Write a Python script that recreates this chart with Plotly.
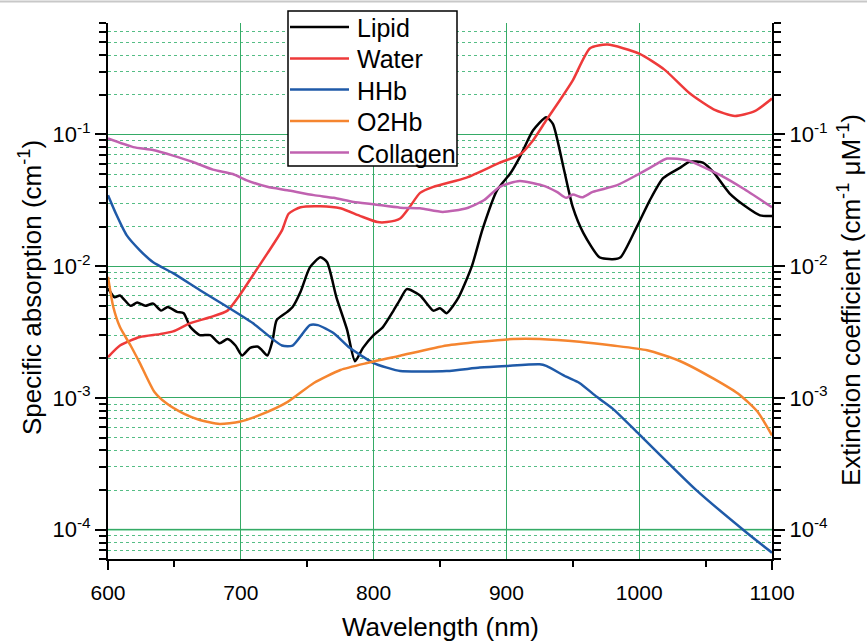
import numpy as np
import plotly.graph_objects as go

# ---------------- data ----------------
lipid_wl = [600, 605, 609, 617, 622, 628, 634, 640, 645, 652, 657, 662, 669, 677, 684, 690, 696, 701, 707, 713,
            716, 720, 724, 727, 735, 739, 745, 752, 760, 765, 772, 780, 786, 792, 800, 807, 815, 820, 825, 835,
            845, 850, 855, 864, 874, 882, 893, 903, 910, 920, 930, 935, 943, 950, 958, 970, 980, 986, 998, 1008,
            1018, 1031, 1038, 1048, 1056, 1068, 1081, 1091, 1100]
lipid = [6.8e-3, 5.8e-3, 6.0e-3, 5.0e-3, 5.3e-3, 5.0e-3, 5.2e-3, 4.6e-3, 4.9e-3, 4.5e-3,
         4.4e-3, 3.45e-3, 3.0e-3, 3.0e-3, 2.6e-3, 2.8e-3, 2.5e-3, 2.1e-3, 2.4e-3, 2.45e-3,
         2.3e-3, 2.1e-3, 2.75e-3, 3.9e-3, 4.5e-3, 4.9e-3, 6.4e-3, 9.8e-3, 1.17e-2, 1.07e-2,
         5.8e-3, 3.3e-3, 1.9e-3, 2.4e-3, 3.0e-3, 3.45e-3, 4.6e-3, 5.6e-3, 6.7e-3, 6.0e-3,
         4.6e-3, 4.8e-3, 4.4e-3, 5.8e-3, 1.0e-2, 1.9e-2, 3.77e-2, 5.07e-2, 6.7e-2, 0.107,
         0.135, 0.12, 5.6e-2, 2.8e-2, 1.78e-2, 1.17e-2, 1.13e-2, 1.17e-2, 1.97e-2, 3.16e-2,
         4.65e-2, 5.6e-2, 6.2e-2, 6.1e-2, 5.15e-2, 3.57e-2, 2.8e-2, 2.43e-2, 2.4e-2]

water_wl = [600, 609, 624, 639, 649, 662, 677, 690, 699, 709, 720, 731, 736, 745, 760, 775, 790, 803, 810, 820,
            827, 835, 845, 870, 895, 910, 920, 930, 940, 950, 963, 976, 1000, 1019, 1038, 1056, 1072, 1087, 1100]
water = [2.04e-3, 2.5e-3, 2.9e-3, 3.05e-3, 3.2e-3, 3.7e-3, 4.1e-3, 4.6e-3, 6.0e-3, 8.5e-3,
         1.25e-2, 1.87e-2, 2.5e-2, 2.8e-2, 2.85e-2, 2.75e-2, 2.4e-2, 2.16e-2, 2.16e-2, 2.3e-2,
         2.8e-2, 3.6e-2, 4.0e-2, 4.7e-2, 6.1e-2, 7.0e-2, 9.0e-2, 0.128, 0.18, 0.257,
         0.45, 0.48, 0.41, 0.31, 0.205, 0.155, 0.138, 0.15, 0.187]

hhb_wl = [600, 606, 614, 624, 634, 649, 669, 690, 709, 731, 739, 752, 758, 770, 782, 800, 810, 820, 855, 880,
          900, 925, 930, 945, 955, 968, 980, 1000, 1043, 1081, 1100]
hhb = [3.45e-2, 2.5e-2, 1.72e-2, 1.32e-2, 1.07e-2, 8.85e-3, 6.6e-3, 4.9e-3, 3.7e-3, 2.5e-3,
       2.5e-3, 3.57e-3, 3.57e-3, 3.1e-3, 2.4e-3, 1.84e-3, 1.7e-3, 1.6e-3, 1.6e-3, 1.7e-3,
       1.75e-3, 1.8e-3, 1.75e-3, 1.45e-3, 1.3e-3, 1.02e-3, 8.3e-4, 5.3e-4, 2.0e-4, 9.5e-5, 6.7e-5]

o2hb_wl = [600, 604, 609, 617, 624, 635, 644, 657, 669, 684, 699, 714, 735, 755, 775, 795, 820, 855, 880, 905,
           925, 955, 980, 1006, 1031, 1056, 1076, 1089, 1100]
o2hb = [8.3e-3, 4.9e-3, 3.45e-3, 2.5e-3, 1.84e-3, 1.11e-3, 9.1e-4, 7.6e-4, 6.8e-4, 6.35e-4,
        6.6e-4, 7.4e-4, 9.3e-4, 1.3e-3, 1.63e-3, 1.84e-3, 2.09e-3, 2.5e-3, 2.67e-3, 2.8e-3,
        2.8e-3, 2.67e-3, 2.5e-3, 2.3e-3, 1.9e-3, 1.4e-3, 1.05e-3, 7.9e-4, 5.2e-4]

collagen_wl = [600, 619, 634, 649, 664, 679, 694, 704, 720, 735, 755, 770, 785, 800, 820, 835, 852, 870, 883, 895,
               910, 927, 938, 945, 950, 957, 965, 983, 998, 1011, 1021, 1036, 1046, 1061, 1078, 1100]
collagen = [0.093, 0.080, 0.076, 0.069, 0.0617, 0.054, 0.050, 0.045, 0.040, 0.0377,
            0.0346, 0.033, 0.0307, 0.0295, 0.0278, 0.0275, 0.0258, 0.0275, 0.0316, 0.040,
            0.0442, 0.041, 0.0366, 0.033, 0.035, 0.0333, 0.0366, 0.041, 0.049, 0.058,
            0.0655, 0.0636, 0.058, 0.049, 0.039, 0.028]

names = ["Lipid", "Water", "HHb", "O2Hb", "Collagen"]
x_ticks = [600, 700, 800, 900, 1000, 1100]
y_major = [1e-4, 1e-3, 1e-2, 1e-1]
y_major_text = ["10<sup>-4</sup>", "10<sup>-3</sup>", "10<sup>-2</sup>", "10<sup>-1</sup>"]

# ---------------- styling ----------------
colors = ["#000000", "#ee3a3a", "#1f5aa8", "#f5852f", "#c062b0"]
axes_of = ["y", "y", "y2", "y2", "y"]
FONT = "Liberation Sans, Arial, sans-serif"
W, H = 867, 641
ML, MR, MT, MB = 108, 95, 23, 82
PW, PH = W - ML - MR, H - MT - MB
YMIN, YMAX = np.log10(6e-5), np.log10(0.7)
GRID = "#35aa66"
MINOR_GRID = "#55bd85"


def px(x):
    return (x - ML) / PW


def py(y):
    return (H - MB - y) / PH


y_minor = [k * 10.0 ** e for e in range(-5, 0) for k in range(2, 10)
           if YMIN <= np.log10(k * 10.0 ** e) <= YMAX + 1e-9]

fig = go.Figure()
data = [(lipid_wl, lipid), (water_wl, water), (hhb_wl, hhb), (o2hb_wl, o2hb), (collagen_wl, collagen)]
for (wl, v), nm, c, ax in zip(data, names, colors, axes_of):
    fig.add_trace(go.Scatter(x=wl, y=v, mode="lines", name=nm, yaxis=ax, showlegend=False,
                             line=dict(color=c, width=2.5, shape="spline", smoothing=0.6)))

yax_common = dict(
    type="log", range=[YMIN, YMAX], tickmode="array", tickvals=y_major, ticktext=y_major_text,
    ticks="outside", ticklen=11, tickwidth=2, tickcolor="black",
    showline=True, linecolor="black", linewidth=2, zeroline=False,
    tickfont=dict(size=22, color="black", family=FONT),
)

fig.update_layout(
    width=W, height=H, margin=dict(l=ML, r=MR, t=MT, b=MB),
    paper_bgcolor="white", plot_bgcolor="white",
    font=dict(family=FONT, color="black"),
    showlegend=False,
    xaxis=dict(
        range=[600, 1100], tickmode="array", tickvals=x_ticks, ticktext=[str(t) for t in x_ticks],
        ticks="outside", ticklen=14, tickcolor="rgba(0,0,0,0)",
        showline=True, linecolor="black", linewidth=2, zeroline=False,
        showgrid=True, gridcolor=GRID, gridwidth=1,
        tickfont=dict(size=21, color="black", family=FONT),
        minor=dict(tickmode="array", tickvals=[650, 750, 850, 950, 1050], ticks="outside",
                   ticklen=6, tickwidth=2, tickcolor="black", showgrid=False),
    ),
    yaxis=dict(**yax_common, showgrid=True, gridcolor=GRID, gridwidth=1,
               minor=dict(tickmode="array", tickvals=y_minor, ticks="outside", ticklen=7,
                          tickwidth=1.5, tickcolor="black", showgrid=True,
                          gridcolor=MINOR_GRID, griddash="dot", gridwidth=1)),
    yaxis2=dict(**yax_common, overlaying="y", side="right", showgrid=False,
                minor=dict(tickmode="array", tickvals=y_minor, ticks="outside", ticklen=7,
                           tickwidth=1.5, tickcolor="black", showgrid=False)),
)

shapes = []
# lighter emphasised 1e-4 grid line
y4 = (np.log10(1e-4) - YMIN) / (YMAX - YMIN)
shapes.append(dict(type="line", xref="paper", yref="paper", x0=0, x1=1, y0=y4, y1=y4,
                   line=dict(color="#7fd0a0", width=2), layer="below"))
# axis lines extending below the x axis
for xp in (0, 1):
    shapes.append(dict(type="line", xref="paper", yref="paper", x0=xp, x1=xp, y0=py(570), y1=0,
                       line=dict(color="black", width=2)))
# thin gray line along top of the image
shapes.append(dict(type="line", xref="paper", yref="paper", x0=px(0), x1=px(W), y0=py(1.5), y1=py(1.5),
                   line=dict(color="#c8c8c8", width=2)))
# legend box
shapes.append(dict(type="rect", xref="paper", yref="paper", x0=px(288), x1=px(457), y0=py(166), y1=py(11),
                   line=dict(color="black", width=1.5), fillcolor="white", layer="above"))
leg_y = [27, 58.5, 89.5, 121, 152.5]
annotations = []
for nm, c, ly in zip(names, colors, leg_y):
    shapes.append(dict(type="line", xref="paper", yref="paper", x0=px(290), x1=px(349), y0=py(ly), y1=py(ly),
                       line=dict(color=c, width=2.5), layer="above"))
    annotations.append(dict(text=nm, xref="paper", yref="paper", x=px(355), y=py(ly + 1), xanchor="left",
                            yanchor="middle", showarrow=False, font=dict(size=25, color="black", family=FONT)))

annotations += [
    dict(text="Wavelength (nm)", xref="paper", yref="paper", x=0.5, y=py(627), xanchor="center",
         yanchor="middle", showarrow=False, font=dict(size=26, color="black", family=FONT)),
    dict(text="Specific absorption (cm<sup>-1</sup>)", xref="paper", yref="paper", x=px(30), y=py(288),
         xanchor="center", yanchor="middle", textangle=-90, showarrow=False,
         font=dict(size=26, color="black", family=FONT)),
    dict(text="Extinction coefficient (cm<sup>-1</sup> μM<sup>-1</sup>)", xref="paper", yref="paper",
         x=px(849), y=py(300), xanchor="center", yanchor="middle", textangle=-90, showarrow=False,
         font=dict(size=26, color="black", family=FONT)),
]

fig.update_layout(shapes=shapes, annotations=annotations)
fig.write_html("out.html")
